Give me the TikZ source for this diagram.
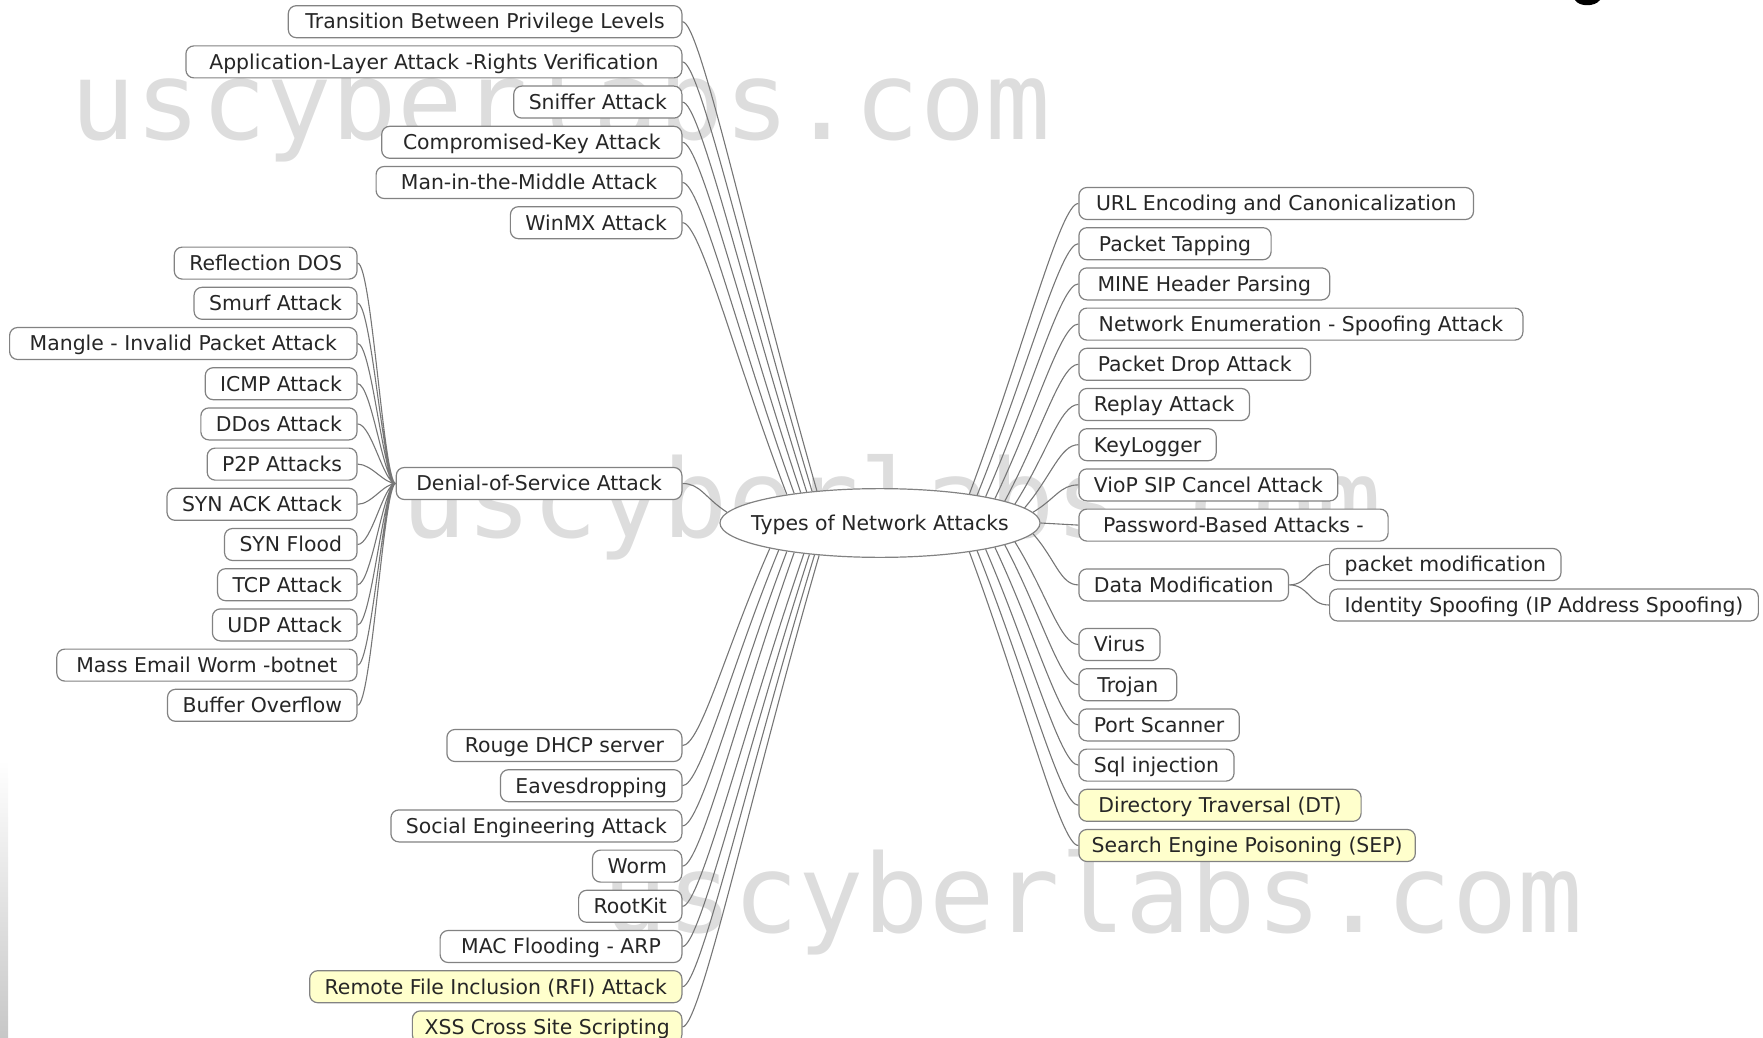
\documentclass[tikz,border=0pt]{standalone}
\usepackage{fontspec}
\setmainfont{DejaVu Sans}
\newfontfamily\markfont{DejaVu Sans Mono}
\usetikzlibrary{calc,shapes.geometric}
\definecolor{noteyellow}{RGB}{255,255,204}
\definecolor{edgegray}{RGB}{118,118,118}
\definecolor{boxgray}{RGB}{130,130,130}
\definecolor{markgray}{RGB}{221,221,221}
\tikzset{
  topic/.style={draw=boxgray, line width=0.6pt, fill=white, rounded corners=4pt,
    minimum height=16pt, inner xsep=7.5pt, inner ysep=0pt, text height=0.73em, text depth=0pt,
    font=\fontsize{10.2pt}{12pt}\selectfont, text=black!85},
  hot/.style={topic, fill=noteyellow},
  rootnode/.style={draw=boxgray, line width=0.6pt, fill=white, ellipse,
    inner xsep=-7.8pt, inner ysep=8.5pt, text height=0.73em, text depth=0pt,
    font=\fontsize{10.2pt}{12pt}\selectfont, text=black!85},
  edge/.style={edgegray, line width=0.55pt},
  wmark/.style={anchor=base west, inner sep=0pt, text=markgray,
    font=\markfont\fontsize{54.3pt}{60pt}\selectfont}
}

\begin{document}
\begin{tikzpicture}[x=0.5pt, y=-0.5pt]
  \useasboundingbox (0,0) rectangle (1763,1038);
  \clip (0,0) rectangle (1763,1038);

  % watermark
  \node[wmark] (wm1) at (70,140) {uscyberlabs.com};
  \node[wmark] (wm2) at (401,537) {uscyberlabs.com};
  \node[wmark] (wm3) at (602,932) {uscyberlabs.com};
  \shade[top color=white, bottom color=black!22] (0,760) rectangle (8,1038);
  \fill (1575,0) .. controls (1579,7) and (1595,7) .. (1600,0) -- cycle;

  % root
  \node[rootnode] (root) at (880,523) {Types of Network Attacks};

  % left, upper
  \node[topic, anchor=east, minimum width=196.8pt] (tpl) at (682.5, 21.7) {Transition Between Privilege Levels};
  \node[topic, anchor=east, minimum width=248pt] (alr) at (682.5, 61.9) {Application-Layer Attack -Rights Verification};
  \node[topic, anchor=east] (sna) at (682.5,102.1) {Sniffer Attack};
  \node[topic, anchor=east, minimum width=150.1pt] (cka) at (682.5,142.3) {Compromised-Key Attack};
  \node[topic, anchor=east, minimum width=152.9pt] (mim) at (682.5,182.5) {Man-in-the-Middle Attack};
  \node[topic, anchor=east] (wmx) at (682.5,222.7) {WinMX Attack};

  % denial of service
  \node[topic, anchor=east, minimum width=142.8pt] (den) at (682.5,483.5) {Denial-of-Service Attack};
  \node[topic, anchor=east] (rdos)   at (357.6,263.1) {Reflection DOS};
  \node[topic, anchor=east] (smurf)  at (357.6,303.3) {Smurf Attack};
  \node[topic, anchor=east, minimum width=173.7pt] (mangle) at (357.6,343.5) {Mangle - Invalid Packet Attack};
  \node[topic, anchor=east] (icmp)   at (357.6,383.7) {ICMP Attack};
  \node[topic, anchor=east] (ddos)   at (357.6,423.9) {DDos Attack};
  \node[topic, anchor=east] (ptp)    at (357.6,464.1) {P2P Attacks};
  \node[topic, anchor=east] (synack) at (357.6,504.3) {SYN ACK Attack};
  \node[topic, anchor=east] (synf)   at (357.6,544.5) {SYN Flood};
  \node[topic, anchor=east] (tcp)    at (357.6,584.7) {TCP Attack};
  \node[topic, anchor=east] (udp)    at (357.6,624.9) {UDP Attack};
  \node[topic, anchor=east, minimum width=150.1pt] (mass) at (357.6,665.1) {Mass Email Worm -botnet};
  \node[topic, anchor=east] (bof)    at (357.6,705.3) {Buffer Overflow};

  % left, lower
  \node[topic, anchor=east, minimum width=117.5pt] (dhcp) at (682.5, 745.5) {Rouge DHCP server};
  \node[topic, anchor=east] (eaves) at (682.5, 785.7) {Eavesdropping};
  \node[topic, anchor=east] (soc)   at (682.5, 825.9) {Social Engineering Attack};
  \node[topic, anchor=east] (worm)  at (682.5, 866.1) {Worm};
  \node[topic, anchor=east] (rkit)  at (682.5, 906.3) {RootKit};
  \node[topic, anchor=east, minimum width=120.9pt] (macf) at (682.5, 946.5) {MAC Flooding - ARP};
  \node[hot,   anchor=east] (rfi)   at (682.5, 986.7) {Remote File Inclusion (RFI) Attack};
  \node[hot,   anchor=east, inner xsep=6.1pt] (xss) at (682.5,1026.9) {XSS Cross Site Scripting};

  % right
  \node[topic, anchor=west, minimum width=197.3pt] (url) at (1078.3,203.5) {URL Encoding and Canonicalization};
  \node[topic, anchor=west, minimum width=96.1pt] (ptap) at (1078.3,243.7) {Packet Tapping};
  \node[topic, anchor=west, minimum width=125.4pt] (mine) at (1078.3,283.9) {MINE Header Parsing};
  \node[topic, anchor=west, minimum width=222pt] (nenum) at (1078.3,324.1) {Network Enumeration - Spoofing Attack};
  \node[topic, anchor=west, minimum width=115.8pt] (pdrop) at (1078.3,364.3) {Packet Drop Attack};
  \node[topic, anchor=west] (replay) at (1078.3,404.5) {Replay Attack};
  \node[topic, anchor=west] (klog)   at (1078.3,444.7) {KeyLogger};
  \node[topic, anchor=west] (voip)   at (1078.3,484.9) {VioP SIP Cancel Attack};
  \node[topic, anchor=west, minimum width=154.6pt] (pwd) at (1078.3,525.1) {Password-Based Attacks -};
  \node[topic, anchor=west] (dmod)   at (1078.3,584.9) {Data Modification};
  \node[topic, anchor=west] (pmod)   at (1329,564.5) {packet modification};
  \node[topic, anchor=west] (ipsp)   at (1329,605.0) {Identity Spoofing (IP Address Spoofing)};
  \node[topic, anchor=west] (virus)  at (1078.3,644.5) {Virus};
  \node[topic, anchor=west, minimum width=48.9pt] (trojan) at (1078.3,684.7) {Trojan};
  \node[topic, anchor=west] (port)   at (1078.3,724.9) {Port Scanner};
  \node[topic, anchor=west] (sql)    at (1078.3,765.1) {Sql injection};
  \node[hot,   anchor=west, minimum width=141.1pt] (dtrav) at (1078.3,805.3) {Directory Traversal (DT)};
  \node[hot,   anchor=west, inner xsep=6.4pt] (sep) at (1078.3,845.5) {Search Engine Poisoning (SEP)};

  % root to left
  \draw[edge]
   (tpl.east) .. controls +(18,0) and ($(tpl.east)!.5!(root.153)$) .. (root.153)
   (alr.east) .. controls +(18,0) and ($(alr.east)!.5!(root.155)$) .. (root.155)
   (sna.east) .. controls +(18,0) and ($(sna.east)!.5!(root.157)$) .. (root.157)
   (cka.east) .. controls +(18,0) and ($(cka.east)!.5!(root.159)$) .. (root.159)
   (mim.east) .. controls +(18,0) and ($(mim.east)!.5!(root.161)$) .. (root.161)
   (wmx.east) .. controls +(18,0) and ($(wmx.east)!.5!(root.163)$) .. (root.163)
   (den.east) .. controls +(18,0) and ($(den.east)!.5!(root.176)$) .. (root.176)
   (dhcp.east)  .. controls +(18,0) and ($(dhcp.east)!.5!(root.193)$) .. (root.193)
   (eaves.east) .. controls +(18,0) and ($(eaves.east)!.5!(root.195)$) .. (root.195)
   (soc.east)   .. controls +(18,0) and ($(soc.east)!.5!(root.197)$) .. (root.197)
   (worm.east)  .. controls +(18,0) and ($(worm.east)!.5!(root.199)$) .. (root.199)
   (rkit.east)  .. controls +(18,0) and ($(rkit.east)!.5!(root.202)$) .. (root.202)
   (macf.east)  .. controls +(18,0) and ($(macf.east)!.5!(root.204)$) .. (root.204)
   (rfi.east)   .. controls +(18,0) and ($(rfi.east)!.5!(root.206)$) .. (root.206)
   (xss.east)   .. controls +(18,0) and ($(xss.east)!.5!(root.208)$) .. (root.208);

  % denial fan
  \draw[edge]
   (rdos.east)   .. controls +(14,0) and +(-12,0) .. (den.west)
   (smurf.east)  .. controls +(14,0) and +(-12,0) .. (den.west)
   (mangle.east) .. controls +(14,0) and +(-12,0) .. (den.west)
   (icmp.east)   .. controls +(14,0) and +(-12,0) .. (den.west)
   (ddos.east)   .. controls +(14,0) and +(-12,0) .. (den.west)
   (ptp.east)    .. controls +(14,0) and +(-12,0) .. (den.west)
   (synack.east) .. controls +(14,0) and +(-12,0) .. (den.west)
   (synf.east)   .. controls +(14,0) and +(-12,0) .. (den.west)
   (tcp.east)    .. controls +(14,0) and +(-12,0) .. (den.west)
   (udp.east)    .. controls +(14,0) and +(-12,0) .. (den.west)
   (mass.east)   .. controls +(14,0) and +(-12,0) .. (den.west)
   (bof.east)    .. controls +(14,0) and +(-12,0) .. (den.west);

  % root to right
  \draw[edge]
   (url.west)    .. controls +(-18,0) and ($(url.west)!.5!(root.18)$) .. (root.18)
   (ptap.west)   .. controls +(-18,0) and ($(ptap.west)!.5!(root.16)$) .. (root.16)
   (mine.west)   .. controls +(-18,0) and ($(mine.west)!.5!(root.14)$) .. (root.14)
   (nenum.west)  .. controls +(-18,0) and ($(nenum.west)!.5!(root.12)$) .. (root.12)
   (pdrop.west)  .. controls +(-18,0) and ($(pdrop.west)!.5!(root.10)$) .. (root.10)
   (replay.west) .. controls +(-18,0) and ($(replay.west)!.5!(root.8)$) .. (root.8)
   (klog.west)   .. controls +(-18,0) and ($(klog.west)!.5!(root.6)$) .. (root.6)
   (voip.west)   .. controls +(-18,0) and ($(voip.west)!.5!(root.4)$) .. (root.4)
   (pwd.west) -- (root.east)
   (dmod.west)   .. controls +(-18,0) and ($(dmod.west)!.5!(root.-4)$) .. (root.-4)
   (virus.west)  .. controls +(-18,0) and ($(virus.west)!.5!(root.-8)$) .. (root.-8)
   (trojan.west) .. controls +(-18,0) and ($(trojan.west)!.5!(root.-10)$) .. (root.-10)
   (port.west)   .. controls +(-18,0) and ($(port.west)!.5!(root.-12)$) .. (root.-12)
   (sql.west)    .. controls +(-18,0) and ($(sql.west)!.5!(root.-14)$) .. (root.-14)
   (dtrav.west)  .. controls +(-18,0) and ($(dtrav.west)!.5!(root.-16)$) .. (root.-16)
   (sep.west)    .. controls +(-18,0) and ($(sep.west)!.5!(root.-18)$) .. (root.-18);

  % data modification
  \draw[edge]
   (dmod.east) .. controls +(20,0) and +(-20,0) .. (pmod.west)
   (dmod.east) .. controls +(20,0) and +(-20,0) .. (ipsp.west);
\end{tikzpicture}
\end{document}
